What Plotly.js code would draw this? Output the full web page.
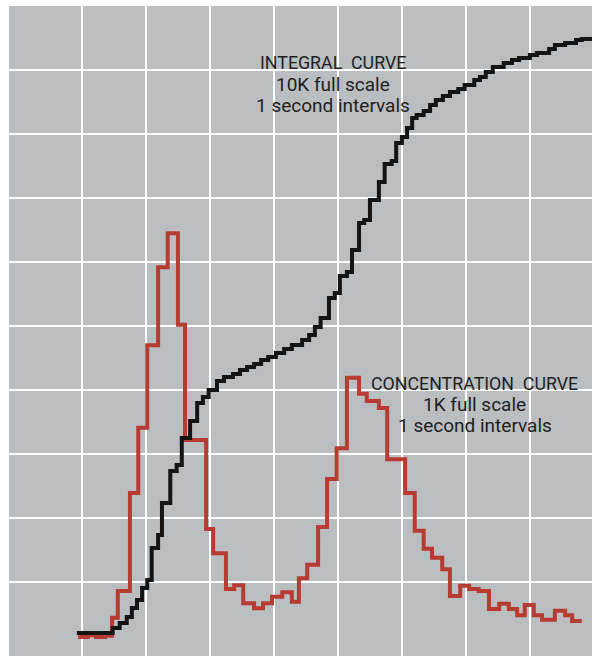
<!DOCTYPE html>
<html>
<head>
<meta charset="utf-8">
<script src="https://cdn.plot.ly/plotly-3.0.1.min.js"></script>
<style>html,body{margin:0;padding:0;background:#fff;}#chart{width:592px;height:656px;}</style>
</head>
<body>
<div id="chart"></div>
<script>
// Time in seconds (step starts), concentration counts (1K full scale)
const concTime = [-0.6,0.9,2.2,3.6,4.7,5.6,7.5,8.8,10.2,11.9,13.4,15.0,16.1,19.4,20.5,22.5,23.8,25.2,26.9,28.3,29.7,31.3,32.8,33.9,35.2,36.9,38.3,39.8,41.4,43.3,44.5,46.4,47.7,50.5,52.0,53.4,54.7,56.3,57.5,59.1,60.5,62.0,63.6,65.2,66.7,68.0,69.2,70.6,71.9,73.9,75.5,76.6,78.1];
const concValues = [14,17,14,16,44,86,239,341,470,592,645,502,322,183,145,89,95,67,59,67,77,84,69,106,127,186,261,309,419,394,383,372,292,239,180,152,138,120,78,94,89,86,58,66,58,48,64,48,41,55,48,39,39];

// Integral counts (10K full scale)
const intTime = [-0.8,4.8,5.9,7.0,7.8,8.6,9.4,10.2,10.9,11.9,12.5,13.8,14.8,15.6,16.9,18.0,18.9,19.8,21.1,22.2,23.6,24.7,25.8,26.9,28.0,29.1,30.3,31.6,32.8,34.4,35.5,36.4,37.3,38.6,39.5,40.3,41.4,42.2,43.3,44.1,45.0,46.4,47.3,48.4,49.1,50.0,50.8,51.6,52.3,53.4,54.4,55.3,56.4,57.5,58.8,59.8,61.3,62.2,63.1,64.2,65.9,67.2,68.3,70.0,71.1,73.0,73.9,75.5,77.2,78.1,79.7];
const intValues = [203,281,359,453,594,719,906,1031,1531,1734,2234,2734,2828,3250,3516,3797,3891,4000,4141,4203,4250,4313,4359,4406,4469,4516,4578,4641,4703,4781,4859,4984,5125,5438,5516,5781,5844,6188,6609,6656,6969,7250,7531,7578,7859,7953,8094,8250,8297,8359,8453,8531,8594,8656,8703,8766,8844,8891,8969,9047,9109,9156,9188,9234,9266,9328,9391,9422,9469,9484,9484];

const xGrid = [0,10,20,30,40,50,60,70];
const yGrid = [100,200,300,400,500,600,700,800,900];

const capsFont = {family: 'Roboto, Liberation Sans, Arial, sans-serif', size: 17.8, color: '#1e1e1e'};
const lowFont = {family: 'Roboto, Liberation Sans, Arial, sans-serif', size: 19, color: '#1e1e1e'};
const NB = '\u00a0';

const traces = [
  {x: concTime, y: concValues, type: 'scatter', mode: 'lines', line: {shape: 'hv', color: '#b73b30', width: 4}, xaxis: 'x', yaxis: 'y', hoverinfo: 'skip'},
  {x: intTime, y: intValues, type: 'scatter', mode: 'lines', line: {shape: 'hv', color: '#141414', width: 4}, xaxis: 'x', yaxis: 'y2', hoverinfo: 'skip'}
];

const layout = {
  width: 592, height: 656,
  margin: {l: 9, r: 0, t: 6, b: 0, pad: 0},
  paper_bgcolor: '#ffffff',
  plot_bgcolor: '#bbbec1',
  showlegend: false,
  xaxis: {range: [-11.4, 79.7], tickvals: xGrid, showticklabels: false, ticks: '', showgrid: true, gridcolor: '#ffffff', gridwidth: 2.5, zeroline: false, showline: false, fixedrange: true},
  yaxis: {range: [-15.6, 1000], tickvals: yGrid, showticklabels: false, ticks: '', showgrid: true, gridcolor: '#ffffff', gridwidth: 2.5, zeroline: false, showline: false, fixedrange: true},
  yaxis2: {range: [-156, 10000], overlaying: 'y', showgrid: false, showticklabels: false, ticks: '', zeroline: false, showline: false, fixedrange: true},
  annotations: [
    {text: 'INTEGRAL' + NB + NB + 'CURVE', x: 39.2, y: 912, xref: 'x', yref: 'y', showarrow: false, font: capsFont},
    {text: '10K full scale', x: 39.2, y: 877, xref: 'x', yref: 'y', showarrow: false, font: lowFont},
    {text: '1 second intervals', x: 39.2, y: 845, xref: 'x', yref: 'y', showarrow: false, font: lowFont},
    {text: 'CONCENTRATION' + NB + NB + 'CURVE', x: 61.4, y: 410, xref: 'x', yref: 'y', showarrow: false, font: capsFont},
    {text: '1K full scale', x: 61.4, y: 378, xref: 'x', yref: 'y', showarrow: false, font: lowFont},
    {text: '1 second intervals', x: 61.4, y: 344, xref: 'x', yref: 'y', showarrow: false, font: lowFont}
  ]
};

Plotly.newPlot('chart', traces, layout, {staticPlot: true, displayModeBar: false});
</script>
</body>
</html>
